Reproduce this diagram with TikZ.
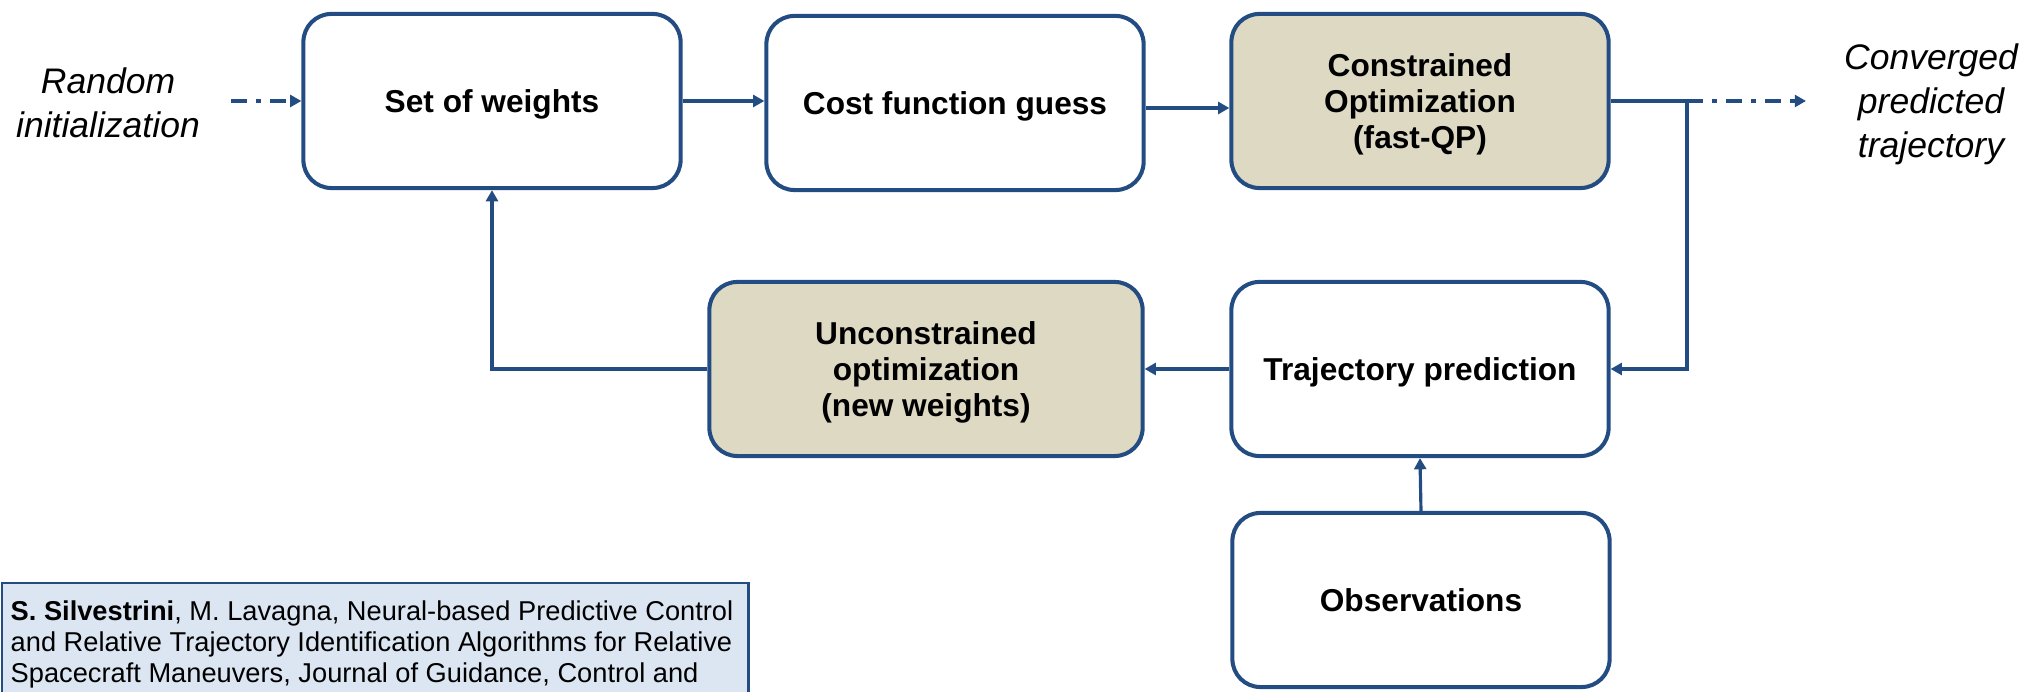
\documentclass[tikz,border=0pt]{standalone}
\usepackage{fontspec}
\setmainfont{Liberation Sans}
\usetikzlibrary{arrows.meta}
\definecolor{navy}{HTML}{234D82}
\definecolor{tanfill}{HTML}{DDD9C3}
\definecolor{citebg}{HTML}{DCE6F2}
\begin{document}
\begin{tikzpicture}[x=0.01cm,y=-0.01cm,
  block/.style={draw=navy, line width=1.15pt, rounded corners=0.28cm, fill=white,
    minimum width=3.77cm, minimum height=1.74cm, align=center, inner sep=0pt,
    text depth=0pt, font=\fontsize{9}{10.3}\selectfont\bfseries},
  shaded/.style={block, fill=tanfill},
  link/.style={draw=navy, line width=0.9pt, -{Triangle[length=3.2pt,width=3.4pt]}},
  dashdot link/.style={link, dash pattern=on 4.5pt off 2.6pt on 1.4pt off 2.6pt},
  caption/.style={align=center, inner sep=0pt, font=\fontsize{10.1}{12.5}\selectfont\itshape},
  citebox/.style={draw=navy, line width=0.7pt, fill=citebg, inner sep=0pt}]
\useasboundingbox (0,0) rectangle (2038,692);
\clip (0,0) rectangle (2038,692);

% process blocks
\node[block]  (w) at (492,101) {Set of weights};
\node[block]  (c) at (955,103) {Cost function guess};
\node[shaded] (q) at (1420,101) {Constrained\\Optimization\\(fast-QP)};
\node[shaded, minimum width=4.33cm] (u) at (926,369) {Unconstrained\\optimization\\(new weights)};
\node[block]  (t) at (1420,369) {Trajectory prediction};
\node[block]  (o) at (1421,600) {Observations};

% input / output captions
\node[caption] (ri) at (108,103) {Random\\initialization};
\node[caption] (cp) at (1931,104) {Converged\\predicted\\trajectory};

% connector end points
\coordinate (in) at (231,101);
\coordinate (split) at (1687,101);
\coordinate (out) at (1806,101);

% connectors
\draw[dashdot link] (in) -- (w.west);
\draw[link] (w.east) -- (w.east -| c.west);
\draw[link] ([yshift=-0.05cm]c.east) -- ([yshift=-0.05cm]c.east -| q.west);
\draw[link] (q.east) -- (split) |- (t.east);
\draw[dashdot link] (split) -- (out);
\draw[link] (t.west) -- (u.east);
\draw[link] (u.west) -| (w.south);
\draw[link] (o.north) -- (t.south);

% reference box
\node[citebox, anchor=north west, minimum width=7.46cm, minimum height=1.4cm] (ref) at (1,582) {};
\node[anchor=north west, align=left, inner sep=0pt,
  font=\fontsize{7.75}{8.8}\selectfont] (reftext) at (10,600)
  {\textbf{S. Silvestrini}, M. Lavagna, Neural-based Predictive Control\\
   and Relative Trajectory Identification Algorithms for Relative\\
   Spacecraft Maneuvers, Journal of Guidance, Control and};
\end{tikzpicture}
\end{document}
